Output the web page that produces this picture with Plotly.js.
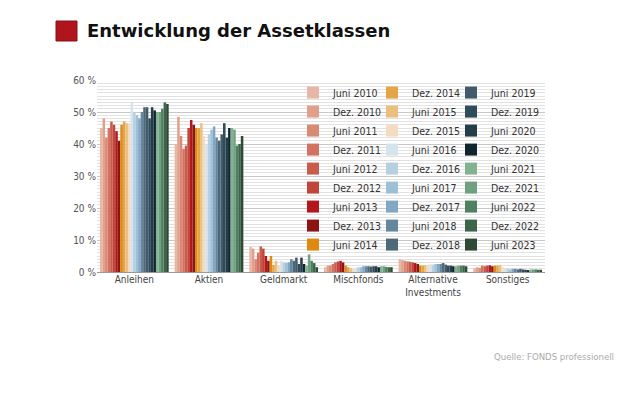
<!DOCTYPE html>
<html><head><meta charset="utf-8">
<script src="https://cdn.plot.ly/plotly-3.0.1.min.js"></script>
<style>body{margin:0;background:#fff}#chart{width:620px;height:413px}</style>
</head><body><div id="chart"></div>
<script>
const categories = ["Anleihen", "Aktien", "Geldmarkt", "Mischfonds", "Alternative<br>Investments", "Sonstiges"];
const seriesNames = ["Juni 2010","Dez. 2010","Juni 2011","Dez. 2011","Juni 2012","Dez. 2012","Juni 2013","Dez. 2013","Juni 2014",
  "Dez. 2014","Juni 2015","Dez. 2015","Juni 2016","Dez. 2016","Juni 2017","Dez. 2017","Juni 2018","Dez. 2018",
  "Juni 2019","Dez. 2019","Juni 2020","Dez. 2020","Juni 2021","Dez. 2021","Juni 2022","Dez. 2022","Juni 2023"];
const colors = ["#e8b6a6","#e1a08a","#d98a72","#d27262","#c85b4a","#c0453b","#b3171c","#8a1513","#de8a10",
  "#e4a548","#ebc07e","#f3dcc2","#d6e4ee","#b6d0e2","#9ec0d7","#80a8c4","#65879e","#4d6878",
  "#435a6b","#2f4c5a","#233e4a","#11252f","#82b290","#6fa07f","#4f8061","#3d6549","#2c4a34"];
// values per asset class, one entry per survey date (same order as seriesNames)
const anleihen    = [45,48,42,45,47,46,44,41,46, 47,46.5,46.5,53,50,49,48,50,51.5, 51.5,48,51.5,50.5,50,50,51,53,52.5];
const aktien      = [40,48.5,42.5,38.5,39.5,45,47.5,46,45, 45,46.5,42.5,40,43,44.5,45.5,42,41, 43,46.5,42,45,45,44.5,39.5,40,42.5];
const geldmarkt   = [7.8,7.3,4,6,8,7.3,5,3.5,5, 2.2,3.5,2,3.5,3,2.8,3,4,3.5, 4.5,2.5,4.5,2.5,2,5.5,3.5,2.8,1.5];
const mischfonds  = [1.5,2,2,2.5,3,3.3,3.5,3,2, 1.5,1.2,1.2,1.3,1.5,1.5,1.8,1.8,1.8, 1.7,1.8,1.8,1.5,1.8,1.8,1.6,1.5,1.5];
const altInvest   = [4,3.7,3.5,3.3,3.2,3,2.8,2.5,2, 2,2.2,2.3,2.4,2.3,2.5,2.5,2.5,2.8, 2.3,2,2,1.8,1.8,2,2,2,1.8];
const sonstiges   = [1.2,1.5,1.3,2,1.8,2,2.1,1.8,2, 2,2.2,1.5,1,1,0.8,1,1,0.8, 1,0.8,0.7,0.6,0.8,0.8,0.8,0.7,0.7];
const yTicks = [0,10,20,30,40,50,60];
const yTickLabels = ["0 %","10 %","20 %","30 %","40 %","50 %","60 %"];

const columns = [anleihen, aktien, geldmarkt, mischfonds, altInvest, sonstiges];
const legendIds = ["legend","legend2","legend3"];
const traces = seriesNames.map((name, i) => ({
  type: "bar",
  name: name,
  x: categories,
  y: columns.map(c => c[i]),
  marker: {color: colors[i], line: {width: 0}},
  legend: legendIds[Math.floor(i / 9)],
  hoverinfo: "x+y+name"
}));

const narrow = "DejaVu Sans Condensed, Liberation Sans Narrow, Arial Narrow, sans-serif";
const legendBase = {
  orientation: "v", yanchor: "top", xanchor: "left", y: 1.01,
  bgcolor: "rgba(0,0,0,0)", borderwidth: 0,
  font: {family: narrow, size: 10.5, color: "#333"},
  tracegroupgap: 0, itemwidth: 30
};

const layout = {
  width: 620, height: 413,
  paper_bgcolor: "#fff", plot_bgcolor: "#fff",
  margin: {l: 97, r: 75, t: 80, b: 141},
  barmode: "group", bargap: 0.08, bargroupgap: 0,
  showlegend: true,
  title: {
    text: "<b>Entwicklung der Assetklassen</b>",
    font: {family: "DejaVu Sans, Verdana, sans-serif", size: 18, color: "#111"},
    xref: "container", yref: "container", x: 87/620, xanchor: "left", y: 1 - 31/413, yanchor: "middle"
  },
  xaxis: {
    type: "category", showgrid: false, zeroline: false,
    showline: false, ticks: "",
    tickfont: {family: narrow, size: 10, color: "#444"},
    fixedrange: true
  },
  yaxis: {
    range: [0, 60], tickmode: "array", tickvals: yTicks, ticktext: yTickLabels,
    showgrid: true, gridcolor: "#c8c8c8", gridwidth: 1,
    zeroline: true, zerolinecolor: "#999", zerolinewidth: 1,
    showline: false, ticks: "",
    minor: {dtick: 1, showgrid: true, gridcolor: "#e2e2e2", gridwidth: 1},
    tickfont: {family: narrow, size: 10, color: "#555"},
    fixedrange: true
  },
  legend:  Object.assign({}, legendBase, {x: (293-97)/448}),
  legend2: Object.assign({}, legendBase, {x: (372-97)/448}),
  legend3: Object.assign({}, legendBase, {x: (451-97)/448}),
  shapes: [{
    type: "rect", xref: "paper", yref: "paper",
    x0: (56-97)/448, x1: (77-97)/448, y0: 1 + (80-41)/192, y1: 1 + (80-21)/192,
    fillcolor: "#b0141c", line: {color: "#8a1015", width: 1}
  }],
  annotations: [{
    text: "Quelle: FONDS professionell", xref: "paper", yref: "paper",
    x: (616-97)/448, xanchor: "right", y: -(356-272)/192, yanchor: "middle",
    showarrow: false, font: {family: narrow, size: 9.5, color: "#aaa"}
  }]
};

Plotly.newPlot("chart", traces, layout, {displayModeBar: false, staticPlot: true});
</script>
</body></html>
